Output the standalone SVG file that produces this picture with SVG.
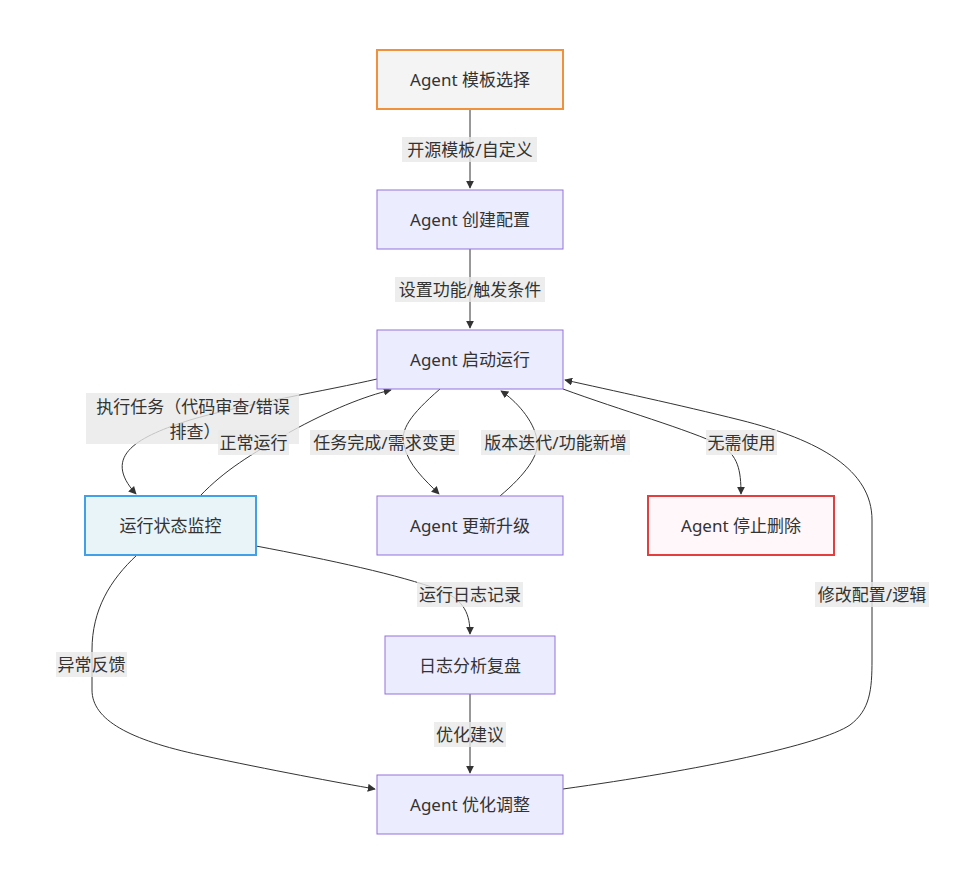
<svg xmlns="http://www.w3.org/2000/svg" width="955" height="875" viewBox="0 0 955 875">
<style>
.node rect{fill:#ECECFF;stroke:#9370DB;stroke-width:1px}
.node text,.lbl text{font-family:"Noto Sans","Noto Sans CJK SC",sans-serif;font-size:17px;fill:#333;text-anchor:middle;dominant-baseline:central}
.lbl rect{fill:#e8e8e8;fill-opacity:0.8}
.edge{fill:none;stroke:#333;stroke-width:1px}
</style>
<defs>
<marker id="ah" viewBox="0 0 10 10" refX="9" refY="5" markerWidth="8" markerHeight="8" markerUnits="userSpaceOnUse" orient="auto">
<path d="M0,0 L10,5 L0,10 z" fill="#333"/>
</marker>
</defs>
<rect width="955" height="875" fill="#fff"/>
<g id="connectors">
<path class="edge" d="M470,109 L470,188" marker-end="url(#ah)"/>
<path class="edge" d="M470,249 L470,328" marker-end="url(#ah)"/>
<path class="edge" d="M377,379 C330,390 240,405 190,420 C140,436 100,455 136,494" marker-end="url(#ah)"/>
<path class="edge" d="M200,496 C225,470 250,455 290,432 C330,410 365,396 391,390" marker-end="url(#ah)"/>
<path class="edge" d="M440,389 C410,415 400,430 404,445 C408,465 425,480 439,494" marker-end="url(#ah)"/>
<path class="edge" d="M500,496 C525,475 540,455 537,440 C534,420 515,400 501,391" marker-end="url(#ah)"/>
<path class="edge" d="M563,389 C620,410 690,430 720,445 C738,455 741,470 741,494" marker-end="url(#ah)"/>
<path class="edge" d="M563,789 C700,770 820,745 850,725 C870,710 872,690 872,660 L872,520 C872,470 820,440 740,420 C680,405 610,390 565,380" marker-end="url(#ah)"/>
<path class="edge" d="M256,546 C330,560 400,575 440,590 C465,600 470,615 470,634" marker-end="url(#ah)"/>
<path class="edge" d="M137,555 C110,580 92,610 92,650 L92,690 C92,720 130,740 200,755 C270,770 340,783 375,789" marker-end="url(#ah)"/>
<path class="edge" d="M470,694 L470,773" marker-end="url(#ah)"/>
</g>
<g id="labels">
<g class="lbl"><rect x="402" y="137" width="135" height="25"/><text x="470" y="149.5">开源模板/自定义</text></g>
<g class="lbl"><rect x="395" y="277" width="150" height="25"/><text x="470" y="289.5">设置功能/触发条件</text></g>
<g class="lbl"><rect x="86" y="393" width="213" height="51"/><text x="193" y="406">执行任务（代码审查/错误</text><text x="195" y="431">排查）</text></g>
<g class="lbl"><rect x="218" y="430" width="71" height="25"/><text x="253.5" y="442.5">正常运行</text></g>
<g class="lbl"><rect x="310" y="430" width="149" height="25"/><text x="384.5" y="442.5">任务完成/需求变更</text></g>
<g class="lbl"><rect x="481" y="430" width="149" height="25"/><text x="555.5" y="442.5">版本迭代/功能新增</text></g>
<g class="lbl"><rect x="706" y="430" width="71" height="25"/><text x="741.5" y="442.5">无需使用</text></g>
<g class="lbl"><rect x="417" y="582" width="106" height="25"/><text x="470" y="594.5">运行日志记录</text></g>
<g class="lbl"><rect x="815" y="582" width="114" height="25"/><text x="872" y="594.5">修改配置/逻辑</text></g>
<g class="lbl"><rect x="56" y="652" width="71" height="25"/><text x="91.5" y="664.5">异常反馈</text></g>
<g class="lbl"><rect x="434" y="722" width="72" height="25"/><text x="470" y="734.5">优化建议</text></g>
</g>
<g id="n1" class="node"><rect x="377" y="50" width="186" height="59" style="fill:#f4f4f4;stroke:#F0913B;stroke-width:2px"/><text x="470" y="79.5">Agent 模板选择</text></g>
<g id="n2" class="node"><rect x="377" y="190" width="186" height="59"/><text x="470" y="219.5">Agent 创建配置</text></g>
<g id="n3" class="node"><rect x="377" y="330" width="186" height="59"/><text x="470" y="359.5">Agent 启动运行</text></g>
<g id="n4" class="node"><rect x="85" y="496" width="171" height="59" style="fill:#E8F4F8;stroke:#42A0E8;stroke-width:2px"/><text x="170.5" y="525.5">运行状态监控</text></g>
<g id="n5" class="node"><rect x="377" y="496" width="186" height="59"/><text x="470" y="525.5">Agent 更新升级</text></g>
<g id="n6" class="node"><rect x="648" y="496" width="186" height="59" style="fill:#FFF7FA;stroke:#E53E3E;stroke-width:2px"/><text x="741" y="525.5">Agent 停止删除</text></g>
<g id="n7" class="node"><rect x="385" y="636" width="170" height="58"/><text x="470" y="665">日志分析复盘</text></g>
<g id="n8" class="node"><rect x="377" y="775" width="186" height="59"/><text x="470" y="804.5">Agent 优化调整</text></g>
</svg>
